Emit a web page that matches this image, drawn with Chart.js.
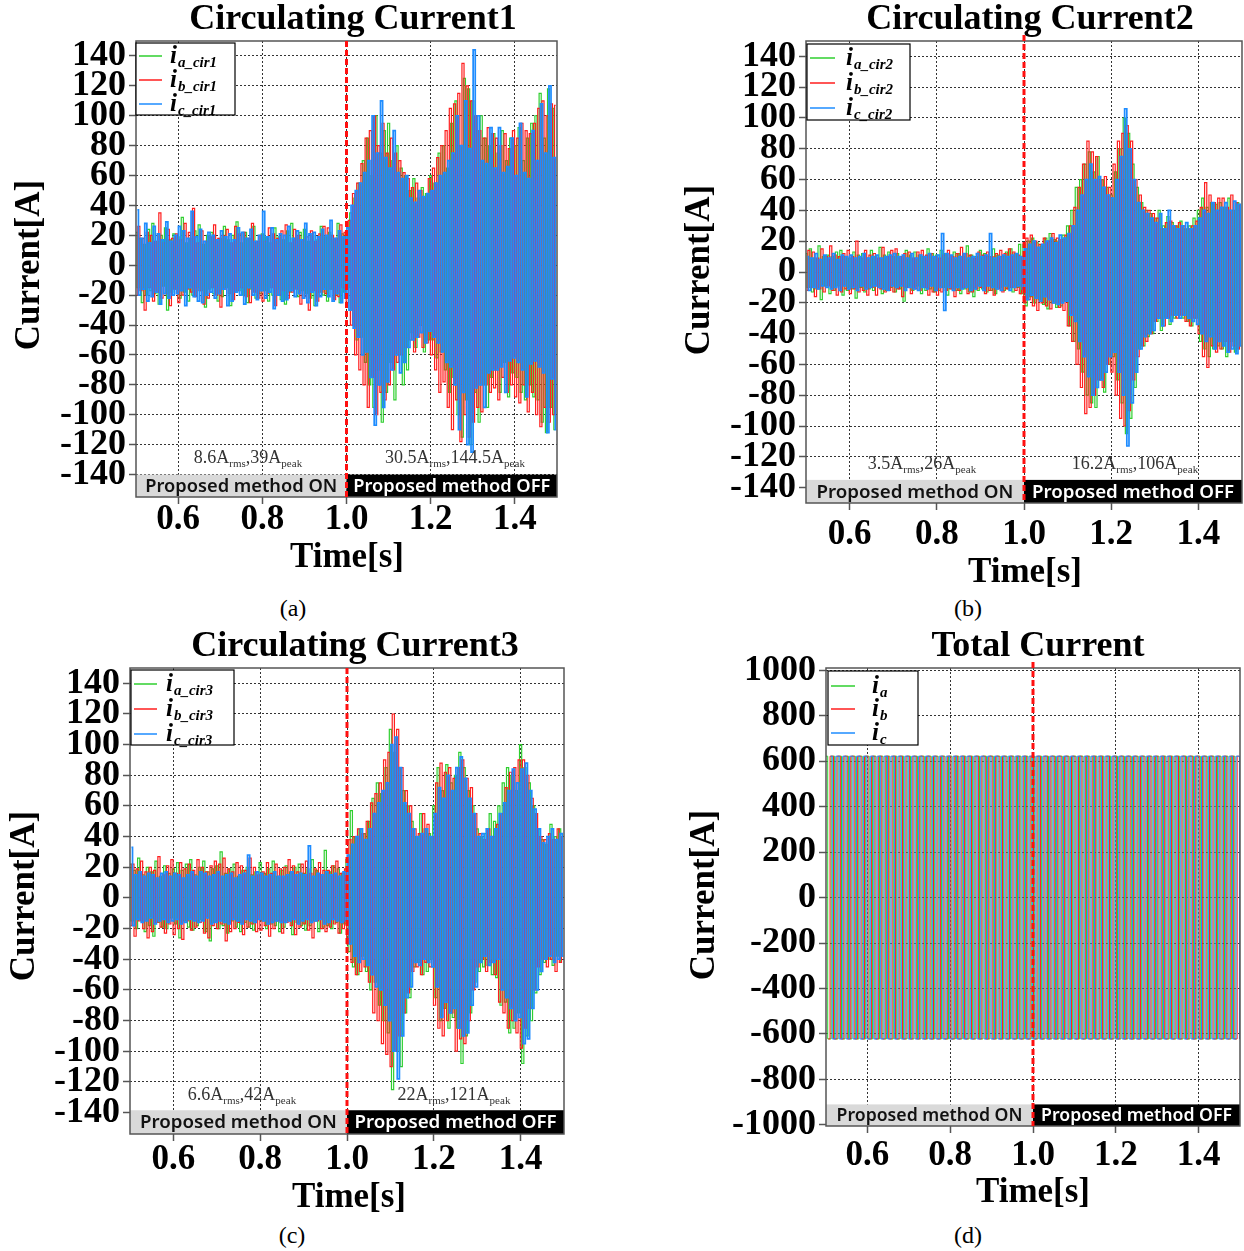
<!DOCTYPE html>
<html>
<head>
<meta charset="utf-8">
<script src="https://cdn.jsdelivr.net/npm/chart.js@4.4.1/dist/chart.umd.min.js"></script>
<style>
html,body{margin:0;padding:0;background:#fff;width:1244px;height:1251px;overflow:hidden;position:relative;}
canvas{position:absolute;}
.cap{position:absolute;font-family:"Liberation Serif","Times New Roman",serif;font-size:24px;color:#000;transform:translate(-50%,-50%);white-space:nowrap;}
</style>
</head>
<body>
<canvas id="ca" width="580" height="590" style="left:0;top:0"></canvas>
<canvas id="cb" width="614" height="590" style="left:630px;top:0"></canvas>
<canvas id="cc" width="580" height="590" style="left:0;top:625px"></canvas>
<canvas id="cd" width="614" height="590" style="left:630px;top:625px"></canvas>
<div class="cap" style="left:293px;top:608px">(a)</div>
<div class="cap" style="left:968px;top:608px">(b)</div>
<div class="cap" style="left:292px;top:1235px">(c)</div>
<div class="cap" style="left:968px;top:1235px">(d)</div>
<script>
// ---------- DATA ----------
const xTicks = [0.6, 0.8, 1.0, 1.2, 1.4];
const xTickLabels = ['0.6', '0.8', '1.0', '1.2', '1.4'];
const yTicksCir = [-140, -120, -100, -80, -60, -40, -20, 0, 20, 40, 60, 80, 100, 120, 140];
const yTicksTotal = [-1000, -800, -600, -400, -200, 0, 200, 400, 600, 800, 1000];
const switchTime = 1.0;
const onLabel = 'Proposed method ON';
const offLabel = 'Proposed method OFF';

// circulating currents: peak samples every 5 ms from 0.50 s (10 values per 50 ms)
const tStartCir = 0.5, tStepCir = 0.005;
const cirPhaseOffsets = [0, 0.0017, 0.0033];

const cir1A = [
  22,-15,18,-25,14,-20,24,-17,28,-19,
  16,-26,20,-14,25,-30,17,-18,21,-16,
  19,-22,32,-18,15,-24,18,-20,23,-15,
  27,-17,14,-28,20,-16,22,-19,16,-24,
  18,-21,26,-15,17,-27,20,-18,29,-17,
  15,-20,22,-25,18,-16,26,-22,16,-19,
  21,-17,19,-24,15,-20,25,-16,19,-23,
  17,-26,23,-18,28,-15,18,-21,22,-17,
  24,-19,16,-22,20,-27,17,-18,26,-20,
  19,-24,22,-16,17,-20,28,-25,21,-18,
  20,-15,35,-30,45,-50,55,-48,70,-65,
  85,-80,60,-95,100,-70,75,-105,90,-85,
  95,-65,70,-90,80,-60,65,-80,60,-70,
  50,-45,58,-55,45,-40,52,-58,48,-50,
  60,-50,55,-62,75,-58,80,-70,65,-85,
  95,-75,110,-100,80,-115,125,-90,118,-120,
  110,-85,90,-105,100,-80,85,-95,80,-75,
  88,-70,75,-85,90,-65,70,-88,85,-72,
  80,-75,92,-85,70,-90,85,-80,95,-88,
  100,-90,115,-105,85,-112,118,-95,105,-110];
const cir1B = [
  -20,26,-17,18,-30,22,-15,20,-24,16,
  -18,35,-22,15,-19,24,-27,18,-16,21,
  -25,17,-20,28,-16,22,-18,38,-21,15,
  -17,23,-26,16,-22,19,-15,27,-20,18,
  -28,20,-16,24,-19,15,-23,26,-17,21,
  -15,22,-21,18,-25,28,-18,16,-22,20,
  -24,16,-19,25,-15,21,-27,18,-20,23,
  -17,27,-22,15,-18,24,-16,20,-26,17,
  -21,19,-30,23,-17,16,-24,21,-18,26,
  -19,25,-16,20,-23,18,-21,27,-15,22,
  -25,30,-40,48,-60,55,-70,68,-80,85,
  -95,90,-75,100,-100,80,-85,95,-90,75,
  -80,85,-70,75,-65,70,-60,62,-55,58,
  -50,52,-58,55,-48,50,-55,45,-52,58,
  -60,65,-70,72,-85,80,-78,90,-95,105,
  -110,108,-90,115,-118,135,-100,120,-115,110,
  -105,100,-95,90,-98,85,-80,92,-85,88,
  -82,85,-90,80,-75,88,-85,78,-80,90,
  -88,85,-92,95,-80,90,-98,88,-85,95,
  -100,105,-108,110,-95,100,-105,108,-100,107];
const cir1C = [
  37,-20,18,-16,28,-24,15,-21,26,-18,
  21,-26,17,-19,29,-22,16,-20,20,-19,
  26,-17,23,-27,18,-15,36,-21,19,-24,
  24,-25,16,-20,22,-18,20,-22,17,-19,
  23,-16,19,-27,21,-24,17,-18,25,-20,
  22,-26,18,-15,24,-20,16,-23,20,-17,
  36,-22,19,-18,25,-29,17,-20,21,-24,
  20,-23,26,-17,18,-21,23,-19,17,-22,
  28,-25,21,-18,22,-27,19,-21,24,-16,
  20,-21,30,-24,18,-19,23,-25,19,-22,
  25,-30,40,-42,50,-48,55,-60,62,-58,
  70,-75,100,-107,75,-80,110,-95,72,-78,
  65,-70,90,-60,62,-72,58,-65,60,-55,
  45,-50,42,-48,50,-45,46,-52,48,-44,
  50,-48,55,-52,60,-58,62,-65,70,-68,
  75,-80,100,-110,80,-85,110,-120,78,-125,
  144,-82,100,-80,70,-95,68,-72,92,-70,
  65,-70,92,-68,62,-85,66,-64,85,-62,
  60,-65,95,-70,62,-88,58,-66,90,-64,
  70,-68,108,-72,75,-112,120,-76,72,-110];

const cir2A = [
  12,-10,15,-13,9,-11,17,-18,10,-9,
  11,-14,10,-12,13,-9,14,-15,10,-12,
  9,-11,13,-17,11,-10,12,-13,9,-11,
  14,-12,10,-9,16,-14,11,-12,13,-10,
  10,-13,12,-11,9,-19,14,-10,11,-12,
  13,-9,11,-14,10,-12,15,-11,12,-13,
  11,-12,14,-10,12,-15,9,-11,13,-12,
  12,-14,10,-11,17,-13,11,-16,10,-12,
  14,-11,12,-13,10,-12,15,-14,11,-10,
  10,-12,13,-11,15,-13,12,-10,18,-14,
  18,-22,20,-16,22,-20,19,-18,17,-21,
  22,-24,25,-20,21,-23,20,-22,24,-19,
  30,-35,40,-45,55,-50,60,-65,70,-80,
  78,-85,65,-88,75,-70,60,-78,55,-60,
  50,-55,65,-70,80,-85,100,-105,90,-95,
  70,-75,55,-50,45,-48,40,-42,38,-40,
  35,-32,40,-38,30,-30,36,-34,32,-30,
  30,-28,33,-30,28,-32,30,-35,35,-30,
  40,-45,48,-50,42,-55,45,-50,44,-48,
  45,-50,42,-55,48,-45,40,-52,45,-50];
const cir2B = [
  -12,14,-10,13,-16,9,-11,15,-13,10,
  -9,17,-12,11,-15,10,-13,12,-11,14,
  -14,10,-11,20,-13,9,-12,14,-15,11,
  -10,12,-15,9,-11,16,-13,10,-12,14,
  -13,15,-11,10,-16,12,-10,13,-14,9,
  -11,13,-12,14,-10,11,-15,12,-13,10,
  -15,9,-13,11,-12,14,-11,10,-16,12,
  -12,16,-10,12,-14,11,-13,9,-11,13,
  -10,11,-14,13,-12,10,-15,12,-11,14,
  -13,12,-11,15,-10,13,-12,11,-14,10,
  -20,22,-18,24,-22,20,-25,18,-20,22,
  -22,20,-24,25,-20,22,-23,21,-25,24,
  -35,30,-45,42,-60,55,-75,70,-92,85,
  -88,78,-80,75,-70,60,-75,62,-60,55,
  -65,70,-80,85,-95,90,-100,95,-90,85,
  -70,60,-55,50,-48,42,-45,40,-40,38,
  -32,35,-30,28,-35,32,-30,33,-28,30,
  -30,32,-28,30,-32,28,-35,30,-30,33,
  -40,42,-55,58,-62,50,-48,45,-52,48,
  -50,48,-45,42,-52,50,-48,45,-50,44];
const cir2C = [
  10,-12,9,-10,12,-11,8,-9,11,-10,
  9,-11,12,-10,8,-12,11,-9,10,-11,
  11,-10,9,-12,10,-9,12,-11,9,-10,
  10,-9,11,-10,9,-11,10,-12,11,-9,
  12,-10,10,-9,11,-12,9,-10,12,-11,
  9,-12,11,-10,10,-11,12,-9,10,-12,
  11,-10,25,-25,12,-10,11,-12,9,-10,
  10,-11,12,-10,9,-12,10,-11,12,-9,
  10,-12,11,-9,25,-10,9,-11,10,-12,
  11,-9,10,-12,11,-10,12,-9,10,-11,
  15,-18,18,-15,20,-17,16,-19,18,-16,
  20,-18,22,-20,19,-21,24,-20,22,-19,
  25,-28,30,-32,40,-45,50,-55,60,-68,
  70,-80,60,-75,62,-70,55,-65,50,-55,
  48,-52,60,-65,75,-80,106,-113,80,-85,
  60,-65,45,-50,40,-42,38,-40,35,-38,
  32,-30,38,-35,28,-30,40,-32,30,-28,
  28,-30,30,-28,32,-30,28,-32,30,-34,
  35,-40,40,-45,38,-42,45,-50,40,-45,
  42,-48,45,-52,40,-50,46,-53,44,-48];

const cir3A = [
  22,-15,18,-20,26,-14,15,-22,20,-18,
  17,-25,24,-16,14,-19,21,-20,16,-13,
  19,-17,23,-26,18,-15,22,-19,25,-21,
  15,-18,20,-14,24,-22,17,-28,19,-16,
  21,-20,30,-18,16,-23,19,-15,22,-19,
  14,-22,18,-16,20,-19,15,-21,17,-14,
  23,-15,16,-20,19,-17,24,-18,14,-22,
  18,-19,21,-15,17,-24,20,-16,22,-18,
  16,-21,19,-18,25,-15,18,-22,15,-19,
  31,-18,17,-20,21,-16,19,-23,16,-17,
  25,-35,57,-45,40,-50,45,-38,42,-48,
  50,-60,65,-55,75,-70,68,-80,85,-88,
  110,-125,95,-100,85,-110,70,-75,60,-65,
  50,-45,40,-42,55,-50,45,-48,42,-40,
  60,-65,85,-80,70,-72,87,-85,75,-78,
  80,-85,95,-108,85,-90,70,-75,60,-55,
  45,-48,40,-45,42,-44,55,-50,50,-52,
  60,-70,75,-68,85,-88,80,-85,70,-75,
  100,-108,85,-90,75,-80,60,-62,45,-50,
  38,-42,35,-40,48,-44,40,-38,45,-42];
const cir3B = [
  -18,22,-25,19,-15,24,-20,17,-26,20,
  -22,18,-16,27,-19,15,-23,21,-17,25,
  -24,16,-20,23,-27,19,-15,22,-21,18,
  -19,25,-16,20,-23,17,-26,21,-18,24,
  -20,22,-17,26,-28,19,-22,17,-20,23,
  -16,21,-24,18,-19,26,-17,20,-22,15,
  -21,17,-18,23,-25,16,-20,22,-15,19,
  -23,20,-16,25,-18,21,-24,17,-19,22,
  -17,24,-21,16,-26,19,-15,23,-20,18,
  -22,18,-19,21,-17,24,-23,16,-20,19,
  -30,38,-42,40,-50,45,-48,42,-45,50,
  -55,62,-75,68,-80,75,-95,90,-102,95,
  -110,120,-100,110,-90,85,-75,70,-62,60,
  -48,45,-45,42,-50,55,-42,48,-45,40,
  -70,75,-85,88,-90,82,-80,85,-75,78,
  -100,85,-92,90,-95,78,-80,72,-60,55,
  -45,42,-40,38,-48,45,-42,40,-50,48,
  -68,55,-75,72,-85,82,-80,85,-88,90,
  -98,90,-85,80,-72,65,-60,55,-45,40,
  -40,38,-45,42,-40,38,-48,45,-42,40];
const cir3C = [
  33,-18,15,-14,17,-16,14,-15,16,-13,
  15,-17,13,-15,16,-14,17,-16,14,-15,
  16,-14,15,-17,13,-16,15,-14,17,-15,
  14,-16,17,-15,16,-13,14,-17,15,-16,
  17,-15,14,-16,15,-17,16,-14,13,-15,
  15,-17,16,-14,28,-15,14,-16,17,-14,
  16,-15,14,-17,15,-16,17,-15,14,-16,
  14,-16,15,-15,17,-14,15,-17,16,-15,
  15,-14,34,-16,14,-15,16,-14,15,-17,
  17,-16,15,-14,16,-15,14,-16,17,-15,
  28,-30,35,-38,40,-42,45,-40,38,-44,
  45,-50,55,-58,62,-60,70,-70,75,-80,
  100,-100,105,-118,85,-90,62,-65,55,-58,
  45,-42,40,-44,42,-40,45,-42,40,-45,
  55,-58,72,-78,65,-68,80,-75,70,-72,
  85,-85,92,-90,78,-88,65,-70,55,-58,
  40,-42,42,-38,45,-44,40,-42,45,-40,
  55,-60,62,-65,70,-72,84,-80,75,-78,
  84,-95,88,-92,70,-72,58,-60,45,-48,
  36,-40,40,-38,45,-42,38,-40,42,-38];

// total current: half-cycle peaks of the 60 Hz phase currents from 0.50 s
const tStartTotal = 0.5, tStepTotal = 1 / 120;
const totalPhaseOffsets = [0, 1 / 180, 2 / 180];
const totalA = [
  622,-622,622,-622,622,-622,622,-622,622,-622,622,-622,622,-622,622,-622,622,-622,622,-622,
  622,-622,622,-622,622,-622,622,-622,622,-622,622,-622,622,-622,622,-622,622,-622,622,-622,
  622,-622,622,-622,622,-622,622,-622,622,-622,622,-622,622,-622,622,-622,622,-622,622,-622,
  622,-622,622,-622,622,-622,622,-622,622,-622,622,-622,622,-622,622,-622,622,-622,622,-622,
  622,-622,622,-622,622,-622,622,-622,622,-622,622,-622,622,-622,622,-622,622,-622,622,-622,
  622,-622,622,-622,622,-622,622,-622,622,-622,622,-622,622,-622,622,-622,622,-622,622,-622];
const totalB = [
  -622,622,-622,622,-622,622,-622,622,-622,622,-622,622,-622,622,-622,622,-622,622,-622,622,
  -622,622,-622,622,-622,622,-622,622,-622,622,-622,622,-622,622,-622,622,-622,622,-622,622,
  -622,622,-622,622,-622,622,-622,622,-622,622,-622,622,-622,622,-622,622,-622,622,-622,622,
  -622,622,-622,622,-622,622,-622,622,-622,622,-622,622,-622,622,-622,622,-622,622,-622,622,
  -622,622,-622,622,-622,622,-622,622,-622,622,-622,622,-622,622,-622,622,-622,622,-622,622,
  -622,622,-622,622,-622,622,-622,622,-622,622,-622,622,-622,622,-622,622,-622,622,-622,622];
const totalC = [
  622,-622,622,-622,622,-622,622,-622,622,-622,622,-622,622,-622,622,-622,622,-622,622,-622,
  622,-622,622,-622,622,-622,622,-622,622,-622,622,-622,622,-622,622,-622,622,-622,622,-622,
  622,-622,622,-622,622,-622,622,-622,622,-622,622,-622,622,-622,622,-622,622,-622,622,-622,
  622,-622,622,-622,622,-622,622,-622,622,-622,622,-622,622,-622,622,-622,622,-622,622,-622,
  622,-622,622,-622,622,-622,622,-622,622,-622,622,-622,622,-622,622,-622,622,-622,622,-622,
  622,-622,622,-622,622,-622,622,-622,622,-622,622,-622,622,-622,622,-622,622,-622,622,-622];

const legendCir1 = [['i', 'a_cir1'], ['i', 'b_cir1'], ['i', 'c_cir1']];
const legendCir2 = [['i', 'a_cir2'], ['i', 'b_cir2'], ['i', 'c_cir2']];
const legendCir3 = [['i', 'a_cir3'], ['i', 'b_cir3'], ['i', 'c_cir3']];
const legendTotal = [['i', 'a'], ['i', 'b'], ['i', 'c']];

const annCir1 = [[['8.6A', 0], ['rms', 1], [',39A', 0], ['peak', 1]], [['30.5A', 0], ['rms', 1], [',144.5A', 0], ['peak', 1]]];
const annCir2 = [[['3.5A', 0], ['rms', 1], [',26A', 0], ['peak', 1]], [['16.2A', 0], ['rms', 1], [',106A', 0], ['peak', 1]]];
const annCir3 = [[['6.6A', 0], ['rms', 1], [',42A', 0], ['peak', 1]], [['22A', 0], ['rms', 1], [',121A', 0], ['peak', 1]]];

// ---------- STYLE / LAYOUT ----------
const SERIF = '"Liberation Serif","Times New Roman",serif';
const SANS = '"Noto Sans","Open Sans",sans-serif';
const COLORS = ['#2fcf2f', '#ff1e1e', '#1e8cff'];

function toPoints(values, start, step, offset) {
  return values.map((v, i) => ({ x: start + offset + i * step, y: v }));
}

function decoPlugin(spec) {
  return {
    id: 'deco',
    afterDatasetsDraw(chart) {
      const ctx = chart.ctx, a = chart.chartArea, x = chart.scales.x, y = chart.scales.y;
      const ox = spec.ox, oy = spec.oy;
      ctx.save();
      // ON / OFF bars
      const xs = x.getPixelForValue(switchTime);
      const yb = y.getPixelForValue(spec.barTop);
      ctx.fillStyle = '#d9d9d9';
      ctx.fillRect(a.left, yb, xs - a.left, a.bottom - yb);
      ctx.fillStyle = '#000';
      ctx.fillRect(xs, yb, a.right - xs, a.bottom - yb);
      ctx.font = '600 18px ' + SANS;
      const fs = 18 * spec.barTextW / ctx.measureText(onLabel).width;
      ctx.font = '600 ' + fs.toFixed(2) + 'px ' + SANS;
      ctx.textAlign = 'center';
      ctx.textBaseline = 'middle';
      ctx.fillStyle = '#111';
      ctx.fillText(onLabel, (a.left + xs) / 2, (yb + a.bottom) / 2 + 1);
      ctx.fillStyle = '#fff';
      ctx.fillText(offLabel, (xs + a.right) / 2, (yb + a.bottom) / 2 + 1);
      // frame
      ctx.strokeStyle = '#555';
      ctx.lineWidth = 1.5;
      ctx.strokeRect(a.left, a.top, a.right - a.left, a.bottom - a.top);
      // red dashed switching line
      ctx.strokeStyle = '#ff1010';
      ctx.lineWidth = 3;
      ctx.setLineDash([6, 3]);
      ctx.beginPath();
      ctx.moveTo(xs, a.top - spec.dashExt);
      ctx.lineTo(xs, a.bottom);
      ctx.stroke();
      ctx.setLineDash([]);
      // annotations
      (spec.ann || []).forEach((parts, k) => {
        const cx = spec.annX[k] - ox, base = spec.annY - oy + 6;
        let total = 0;
        parts.forEach(p => { ctx.font = (p[1] ? '11px ' : '18px ') + SERIF; total += ctx.measureText(p[0]).width; });
        let px = cx - total / 2;
        ctx.textAlign = 'left';
        ctx.textBaseline = 'alphabetic';
        ctx.fillStyle = '#333';
        parts.forEach(p => {
          ctx.font = (p[1] ? '11px ' : '18px ') + SERIF;
          ctx.fillText(p[0], px, base + (p[1] ? 4 : 0));
          px += ctx.measureText(p[0]).width;
        });
      });
      // legend
      const L = spec.legend;
      ctx.fillStyle = '#fff';
      ctx.fillRect(L.x - ox, L.y - oy, L.w, L.h);
      ctx.strokeStyle = '#000';
      ctx.lineWidth = 1.2;
      ctx.strokeRect(L.x - ox, L.y - oy, L.w, L.h);
      spec.legendLabels.forEach((lab, k) => {
        const cy = L.rows[k] - oy;
        ctx.strokeStyle = COLORS[k];
        ctx.lineWidth = 1.5;
        ctx.beginPath();
        ctx.moveTo(L.x - ox + 3, cy);
        ctx.lineTo(L.x - ox + L.sample, cy);
        ctx.stroke();
        ctx.fillStyle = '#000';
        ctx.textAlign = 'left';
        ctx.textBaseline = 'alphabetic';
        ctx.font = 'italic bold 25px ' + SERIF;
        const tx = L.tx - ox;
        ctx.fillText(lab[0], tx, cy + 7);
        const w = ctx.measureText(lab[0]).width;
        ctx.font = 'italic bold 15px ' + SERIF;
        ctx.fillText(lab[1], tx + w + 1, cy + 11);
      });
      // titles
      ctx.fillStyle = '#000';
      ctx.textAlign = 'center';
      ctx.textBaseline = 'middle';
      ctx.font = 'bold 36px ' + SERIF;
      ctx.fillText(spec.title, spec.titleX - ox, spec.titleY - oy);
      ctx.font = 'bold 35px ' + SERIF;
      ctx.fillText('Time[s]', spec.xTitleX - ox, spec.xTitleY - oy);
      ctx.save();
      ctx.translate(spec.yTitleX - ox, spec.yTitleY - oy);
      ctx.rotate(-Math.PI / 2);
      ctx.fillText('Current[A]', 0, 0);
      ctx.restore();
      ctx.restore();
    }
  };
}

function makePanel(spec) {
  const A = { left: spec.area.left - spec.ox, right: spec.area.right - spec.ox, top: spec.area.top - spec.oy, bottom: spec.area.bottom - spec.oy };
  const el = document.getElementById(spec.id);
  const W = el.width, H = el.height;
  new Chart(el, {
    type: 'line',
    data: {
      datasets: spec.series.map((vals, k) => ({
        label: spec.legendLabels[k].join('_'),
        data: toPoints(vals, spec.t0, spec.dt, spec.offsets[k]),
        borderColor: COLORS[k],
        borderWidth: spec.lw[k],
        pointRadius: 0,
        stepped: 'middle',
        fill: false,
        order: 2 - k
      }))
    },
    options: {
      responsive: false,
      animation: false,
      devicePixelRatio: 1,
      events: [],
      layout: { padding: { left: 0, top: A.top, right: W - A.right, bottom: 0 } },
      plugins: { legend: { display: false }, tooltip: { enabled: false }, title: { display: false } },
      scales: {
        x: {
          type: 'linear', min: 0.5, max: 1.5,
          afterBuildTicks: s => { s.ticks = xTicks.map(v => ({ value: v })); },
          afterFit: s => { s.height = H - A.bottom; },
          ticks: { callback: (v, i) => xTickLabels[i], font: { family: SERIF, size: 35, weight: 'bold' }, color: '#000', padding: spec.xPad, maxRotation: 0, autoSkip: false },
          grid: { color: '#333', lineWidth: 1, tickLength: 7, tickColor: '#555', tickWidth: 1.5, tickBorderDash: [], borderDash: [2, 2] },
          border: { display: false, dash: [2, 2] }
        },
        y: {
          type: 'linear', min: spec.yMin, max: spec.yMax,
          afterBuildTicks: s => { s.ticks = spec.yTicks.map(v => ({ value: v })); },
          afterFit: s => { s.width = A.left; },
          ticks: { callback: v => String(v), font: { family: SERIF, size: 36, weight: 'bold' }, color: '#000', padding: 3, autoSkip: false },
          grid: { color: '#333', lineWidth: 1, tickLength: 7, tickColor: '#555', tickWidth: 1.5, tickBorderDash: [], borderDash: [2, 2] },
          border: { display: false, dash: [2, 2] }
        }
      }
    },
    plugins: [decoPlugin(spec)]
  });
}

const cirWidths = [1.2, 1.2, 1.7];
const totalWidths = [1, 1, 1];

makePanel({
  id: 'ca', ox: 0, oy: 0,
  area: { left: 136, right: 557, top: 41, bottom: 497 },
  yMin: -155, yMax: 150, yTicks: yTicksCir, barTop: -140, barTextW: 192,
  series: [cir1A, cir1B, cir1C], offsets: cirPhaseOffsets, t0: tStartCir, dt: tStepCir, lw: cirWidths,
  title: 'Circulating Current1', titleX: 353, titleY: 20,
  xTitleX: 347, xTitleY: 558, yTitleX: 30, yTitleY: 265, xPad: -5,
  ann: annCir1, annX: [248, 455], annY: 457, dashExt: 0,
  legendLabels: legendCir1,
  legend: { x: 136, y: 43, w: 99, h: 72, rows: [56, 80, 104], sample: 26, tx: 170 }
});
makePanel({
  id: 'cb', ox: 630, oy: 0,
  area: { left: 806, right: 1242, top: 41, bottom: 503 },
  yMin: -150, yMax: 150, yTicks: yTicksCir, barTop: -135, barTextW: 197,
  series: [cir2A, cir2B, cir2C], offsets: cirPhaseOffsets, t0: tStartCir, dt: tStepCir, lw: cirWidths,
  title: 'Circulating Current2', titleX: 1030, titleY: 20,
  xTitleX: 1025, xTitleY: 573, yTitleX: 700, yTitleY: 270, xPad: 4,
  ann: annCir2, annX: [922, 1135], annY: 463, dashExt: 6,
  legendLabels: legendCir2,
  legend: { x: 807, y: 44, w: 103, h: 76, rows: [58, 83, 108], sample: 28, tx: 846 }
});
makePanel({
  id: 'cc', ox: 0, oy: 625,
  area: { left: 130, right: 564, top: 668, bottom: 1134 },
  yMin: -154, yMax: 150, yTicks: yTicksCir, barTop: -138.5, barTextW: 197,
  series: [cir3A, cir3B, cir3C], offsets: cirPhaseOffsets, t0: tStartCir, dt: tStepCir, lw: cirWidths,
  title: 'Circulating Current3', titleX: 355, titleY: 647,
  xTitleX: 349, xTitleY: 1198, yTitleX: 25, yTitleY: 896, xPad: -2,
  ann: annCir3, annX: [242, 454], annY: 1094, dashExt: 0,
  legendLabels: legendCir3,
  legend: { x: 131, y: 670, w: 103, h: 75, rows: [684, 709, 734], sample: 26, tx: 166 }
});
makePanel({
  id: 'cd', ox: 630, oy: 625,
  area: { left: 826, right: 1240, top: 668, bottom: 1126 },
  yMin: -1005, yMax: 1010, yTicks: yTicksTotal, barTop: -910, barTextW: 186,
  series: [totalA, totalB, totalC], offsets: totalPhaseOffsets, t0: tStartTotal, dt: tStepTotal, lw: totalWidths,
  title: 'Total Current', titleX: 1038, titleY: 647,
  xTitleX: 1033, xTitleY: 1193, yTitleX: 705, yTitleY: 895, xPad: 2,
  ann: [], annX: [], annY: 0, dashExt: 6,
  legendLabels: legendTotal,
  legend: { x: 828, y: 671, w: 90, h: 74, rows: [686, 709, 733], sample: 27, tx: 872 }
});
</script>
</body>
</html>
